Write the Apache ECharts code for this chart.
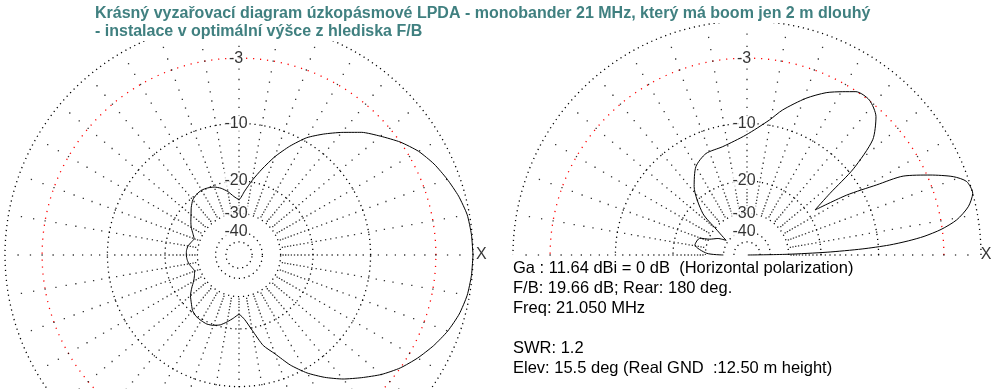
<!DOCTYPE html>
<html><head><meta charset="utf-8">
<script src="https://cdn.jsdelivr.net/npm/echarts@6/dist/echarts.min.js"></script>
<style>html,body{margin:0;padding:0;background:#fff}#c{width:996px;height:389px}</style>
</head><body><div id="c"></div>
<script>
// ---------- data ----------
const titleLines = [
  'Krásný vyzařovací diagram úzkopásmové LPDA - monobander 21 MHz, který má boom jen 2 m dlouhý',
  '- instalace v optimální výšce z hlediska F/B'
];
const infoLines = [
  'Ga : 11.64 dBi = 0 dB  (Horizontal polarization)',
  'F/B: 19.66 dB; Rear: 180 deg.',
  'Freq: 21.050 MHz',
  '',
  'SWR: 1.2',
  'Elev: 15.5 deg (Real GND  :12.50 m height)'
];
const ringDb = [0, -3, -10, -20, -30, -40, -50];
const ringLabelDb = [-3, -10, -20, -30, -40];
const ringLabels = ['-3', '-10', '-20', '-30', '-40'];
const spokeDotDb = [-1,-2,-3,-4,-5,-6,-7,-8,-9,-10,-11,-12,-13,-14,-15,-16,-17,-18,-19,-20,-21,-22,-23,-24,-25,-26,-27,-28,-29];
const azimuthAngles = [0,5,10,15,20,25,30,35,40,45,50,55,60,65,70,75,80,85,90,95,100,105,110,115,120,125,130,135,140,145,150,155,160,165,170,175,180,185,190,195,200,205,210,215,220,225,230,235,240,245,250,255,260,265,270,275,280,285,290,295,300,305,310,315,320,325,330,335,340,345,350,355,360];
const azimuthDb = [0,-0.05,-0.17,-0.5,-0.95,-1.45,-2.1,-3.0,-4.1,-5.2,-6.6,-8.0,-9.5,-11.6,-14.0,-16.8,-19.6,-22.5,-25.0,-24.0,-22.4,-21.2,-20.4,-20.0,-19.8,-20.0,-20.5,-21.6,-22.9,-24.0,-25.1,-26.5,-27.6,-27.0,-26.2,-25.9,-25.9,-26.1,-26.5,-27.3,-27.8,-27.1,-26.0,-24.3,-22.7,-21.6,-20.4,-19.8,-19.6,-19.5,-19.8,-20.4,-21.5,-22.7,-23.8,-22.3,-19.4,-15.9,-13.9,-11.4,-9.4,-7.8,-6.4,-5.2,-4.0,-3.0,-2.2,-1.5,-0.9,-0.45,-0.17,-0.05,0];
const elevationAngles = [0,1,2,3,4,5,6,7.5,9.5,12.3,15.3,18.5,20.8,23.6,26.8,28.4,31,33.5,36.6,39,42.5,47,51.7,56.3,59.6,64,69.4,76.2,80.6,90.5,102.6,112,120,127.7,136.7,140,145,150.4,157,160.4,169,177.6,180];
const elevationDb = [-99,-30.7,-18.6,-12.3,-8.6,-6.4,-4.75,-3.1,-1.67,-0.57,0,-0.18,-1.02,-2.75,-5.05,-8.03,-12.15,-18.3,-14.2,-9.3,-5.5,-3.7,-2.95,-3.05,-3.68,-4.5,-5.82,-7.8,-9.33,-11.6,-12.95,-13.2,-14.4,-17.3,-23.4,-30.5,-38.5,-33.8,-30.5,-26.8,-25.8,-30.6,-39.8];

// ---------- helpers ----------
const amp = db => Math.pow(10, db / 40);   // MMANA-like log radial scale
const EXT = 1.05;
const R_PX = 234;

function ringSeries(polarIndex, maxAngle) {
  return ringDb.map(db => {
    const d = [];
    for (let a = 0; a <= maxAngle; a += 1) d.push([amp(db), a]);
    return {
      type: 'line', coordinateSystem: 'polar', polarIndex, data: d,
      showSymbol: false, silent: true, z: 1, clip: false,
      lineStyle: { color: db === -3 ? '#ff0000' : '#000', width: 1.3, type: db === -3 ? [1.2, 5.8] : [1.2, 3.8] }
    };
  });
}
function spokeSeries(polarIndex, maxAngle) {
  const d = [];
  for (let a = 0; a <= maxAngle - (maxAngle === 360 ? 10 : 0); a += 10)
    spokeDotDb.forEach(db => d.push([amp(db), a]));
  return {
    type: 'scatter', coordinateSystem: 'polar', polarIndex, data: d, silent: true, z: 1,
    symbol: 'rect', symbolSize: 1.3, itemStyle: { color: '#000' }
  };
}
function labelSeries(polarIndex, xAmp) {
  const d = ringLabelDb.map((db, i) => ({ value: [amp(db), 90], name: ringLabels[i] }));
  d.push({ value: [xAmp, 0], name: 'X', label: { backgroundColor: 'transparent', offset: [0, 0] } });
  return {
    type: 'scatter', coordinateSystem: 'polar', polarIndex, data: d, silent: true, z: 2,
    symbolSize: 0,
    label: { show: true, position: 'inside', formatter: '{b}', color: '#000',
      fontFamily: 'Liberation Sans', fontSize: 16, backgroundColor: '#fff', padding: [0, 1], offset: [-3, 0] }
  };
}
function patternSeries(polarIndex, angles, dbs, smooth) {
  return {
    type: 'line', coordinateSystem: 'polar', polarIndex, z: 3, silent: true, clip: false,
    data: angles.map((a, i) => [amp(dbs[i]), a]),
    showSymbol: false, smooth,
    lineStyle: { color: '#000', width: 1 }
  };
}

const polarDefs = [{ center: [239, 255], radius: R_PX * EXT }, { center: [747, 255], radius: R_PX * EXT }];
const chart = echarts.init(document.getElementById('c'));
chart.setOption({
  animation: false,
  backgroundColor: '#fff',
  polar: polarDefs,
  angleAxis: [0, 1].map(i => ({ polarIndex: i, type: 'value', min: 0, max: 360, startAngle: 0, clockwise: false,
    axisLine: { show: false }, axisTick: { show: false }, axisLabel: { show: false }, splitLine: { show: false } })),
  radiusAxis: [0, 1].map(i => ({ polarIndex: i, type: 'value', min: 0, max: EXT,
    axisLine: { show: false }, axisTick: { show: false }, axisLabel: { show: false }, splitLine: { show: false } })),
  graphic: [
    ...titleLines.map((t, i) => ({
      type: 'text', left: 95, top: 5 + i * 18, silent: true, z: 10,
      style: { text: t, font: 'bold 16px "Liberation Sans"', fill: '#408080', backgroundColor: '#fff', lineHeight: 18 }
    })),
    {
      type: 'text', left: 513, top: 258, silent: true,
      style: { text: infoLines.join('\n'), font: '16.5px "Liberation Sans"', lineHeight: 20, fill: '#000' }
    }
  ],
  series: [
    ...ringSeries(0, 360), spokeSeries(0, 360), labelSeries(0, 1.036), patternSeries(0, azimuthAngles, azimuthDb, 0.2),
    ...ringSeries(1, 180), spokeSeries(1, 180), labelSeries(1, 1.022), patternSeries(1, elevationAngles, elevationDb, 0.25)
  ]
});
</script></body></html>
